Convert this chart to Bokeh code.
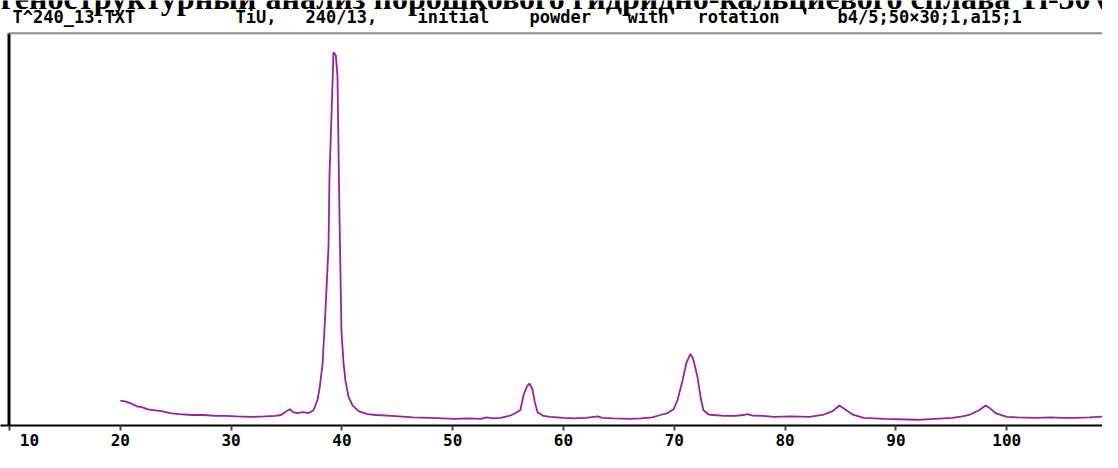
import re
from bokeh.plotting import figure
from bokeh.models import Label, FixedTicker, Range1d, BoxAnnotation
from bokeh.embed import file_html
from bokeh.resources import INLINE

# ---- data ----
two_theta = [20.0, 20.5, 21.0, 21.5, 22.0, 22.5, 23.0, 23.7, 24.5, 25.3, 26.5, 27.5, 28.6, 29.5,
             30.5, 31.8, 33.0, 34.0, 34.5, 35.0, 35.3, 35.6, 36.0, 36.5, 37.0, 37.44, 37.8, 38.0,
             38.25, 38.52, 38.79, 38.88, 39.06, 39.24, 39.45, 39.6, 39.78, 39.96, 40.15, 40.32,
             40.6, 40.96, 41.5, 42.3, 43.1, 44.5, 46.4, 48.0, 50.2, 51.5, 52.5, 53.1, 53.6, 54.3,
             55.1, 55.5, 56.1, 56.4, 56.7, 56.93, 57.2, 57.4, 57.65, 58.2, 58.8, 60.0, 61.0, 62.0,
             63.1, 63.5, 64.5, 66.0, 67.0, 68.0, 68.75, 69.4, 69.93, 70.3, 70.74, 71.1, 71.46,
             71.7, 72.09, 72.4, 72.63, 73.1, 73.54, 74.5, 75.5, 76.3, 76.6, 77.0, 78.0, 79.0,
             80.5, 82.2, 83.5, 84.3, 84.9, 85.4, 86.1, 87.1, 89.0, 91.9, 93.5, 95.1, 96.0, 96.7,
             97.5, 98.1, 98.5, 99.0, 100.0, 101.0, 102.6, 104.0, 105.0, 106.1, 107.5, 109.4, 110.0]
intensity = [26, 25, 23, 20, 19, 17, 16, 15, 13, 12, 11, 11, 10, 10,
             9.5, 9, 9.5, 10, 11, 15, 17, 14, 13, 14, 13, 16, 27, 40,
             64, 121, 187, 262, 324, 391, 388, 366, 221, 99, 65, 47,
             30, 21, 15, 12, 11, 10, 8.5, 8, 7, 7.5, 7, 8.5, 7.5, 8,
             10, 12, 16, 32, 41, 44, 38, 25, 14, 10, 9, 8, 7.5, 8,
             9.5, 8, 7.5, 7, 7.5, 8.5, 11, 13, 17, 27, 47, 66, 75,
             70, 51, 28, 16, 11.5, 11, 10, 10, 11, 12, 10.5, 10, 9,
             9.5, 9, 11.5, 15, 21, 17, 11.5, 8, 7, 6, 7, 8, 9.5, 11.5,
             16, 21, 18, 13, 9, 8.5, 8, 8.5, 8, 8, 8.5, 10, 10]
tick_values = [10, 20, 30, 40, 50, 60, 70, 80, 90, 100, 110]
title_part1 = "Рентгеноструктурный"
title_part2 = "анализ порошкового гидридно-кальциевого сплава Ti-50V"
header_file = "T^240_13.TXT"
header_desc = "TiU, 240/13, initial powder with rotation  b4/5;50×30;1,a15;1"

# ---- layout (figure px) ----
W, H = 1102, 452
BOTTOM = 24                 # space for the x axis
FB = H - BOTTOM             # frame bottom (px from top)
TOPLINE = 33                # grey top border (px from top)
I_TOP = 411.0               # intensity at the top border
X_ORIGIN_PX = 9             # px of 2theta = 10
PX_PER_DEG = 11.08
BASELINE_SHIFT = 0.36       # label baseline correction (fraction of font size)
scale = (FB - TOPLINE) / I_TOP          # px per intensity unit
x0 = 10 - X_ORIGIN_PX / PX_PER_DEG
x1 = 10 + (W - X_ORIGIN_PX) / PX_PER_DEG
y_top = I_TOP + TOPLINE / scale


def dx(fx):
    return 10 + (fx - X_ORIGIN_PX) / PX_PER_DEG


def dy(fy):
    return I_TOP + (TOPLINE - fy) / scale


def base(fy, size):
    return dy(fy - BASELINE_SHIFT * size)


p = figure(width=W, height=H, x_range=Range1d(x0, x1), y_range=Range1d(0, y_top),
           output_backend="svg", toolbar_location=None,
           min_border_left=0, min_border_right=0, min_border_top=0,
           min_border_bottom=BOTTOM)
p.background_fill_color = "white"
p.border_fill_color = "white"
p.outline_line_color = None
p.grid.visible = False
p.yaxis.visible = False

ax = p.xaxis[0]
ax.ticker = FixedTicker(ticks=tick_values)
ax.major_label_overrides = {10: "\u00a0\u00a010", 110: "110\u00a0\u00a0\u00a0"}
ax.axis_line_color = "black"
ax.axis_line_width = 2
ax.major_tick_line_color = "#444444"
ax.major_tick_line_width = 2
ax.major_tick_in = 0
ax.major_tick_out = 5
ax.minor_tick_line_color = None
ax.major_label_standoff = 0
ax.major_label_text_font = "DejaVu Sans Mono"
ax.major_label_text_font_style = "bold"
ax.major_label_text_font_size = "16px"
ax.major_label_text_color = "black"

p.line(two_theta, intensity, line_color="#9b1f9f", line_width=1.8)

# frame borders: thick black left edge, grey top edge
p.add_layout(BoxAnnotation(left=dx(7), right=dx(10), bottom=0, top=I_TOP,
                           fill_color="black", fill_alpha=1, line_color=None))
p.add_layout(BoxAnnotation(left=dx(8), right=x1, bottom=dy(34), top=dy(32),
                           fill_color="#8c8c8c", fill_alpha=1, line_color=None))

# title (cut off at the top in the original)
TITLE_SIZE = 32
for txt, fx, align in [(title_part1, 256, "right"), (title_part2, 265, "left")]:
    p.add_layout(Label(x=dx(fx), y=base(9, TITLE_SIZE), text=txt, text_align=align,
                       text_baseline="alphabetic", text_font="Liberation Serif",
                       text_font_style="bold", text_font_size=f"{TITLE_SIZE}px",
                       text_color="black"))

# header line
HEAD_SIZE = 17
HEAD_FONT = dict(text_baseline="alphabetic", text_font="DejaVu Sans Mono",
                 text_font_style="bold", text_font_size=f"{HEAD_SIZE}px", text_color="black")
p.add_layout(Label(x=dx(12), y=base(23, HEAD_SIZE), text=header_file, text_align="left",
                   **HEAD_FONT))
for m in re.finditer(r"\S+", header_desc):
    p.add_layout(Label(x=dx(235 + 14.0 * m.start()), y=base(23, HEAD_SIZE), text=m.group(),
                       text_align="left", **HEAD_FONT))

open("out.html", "w").write(file_html(p, INLINE))
